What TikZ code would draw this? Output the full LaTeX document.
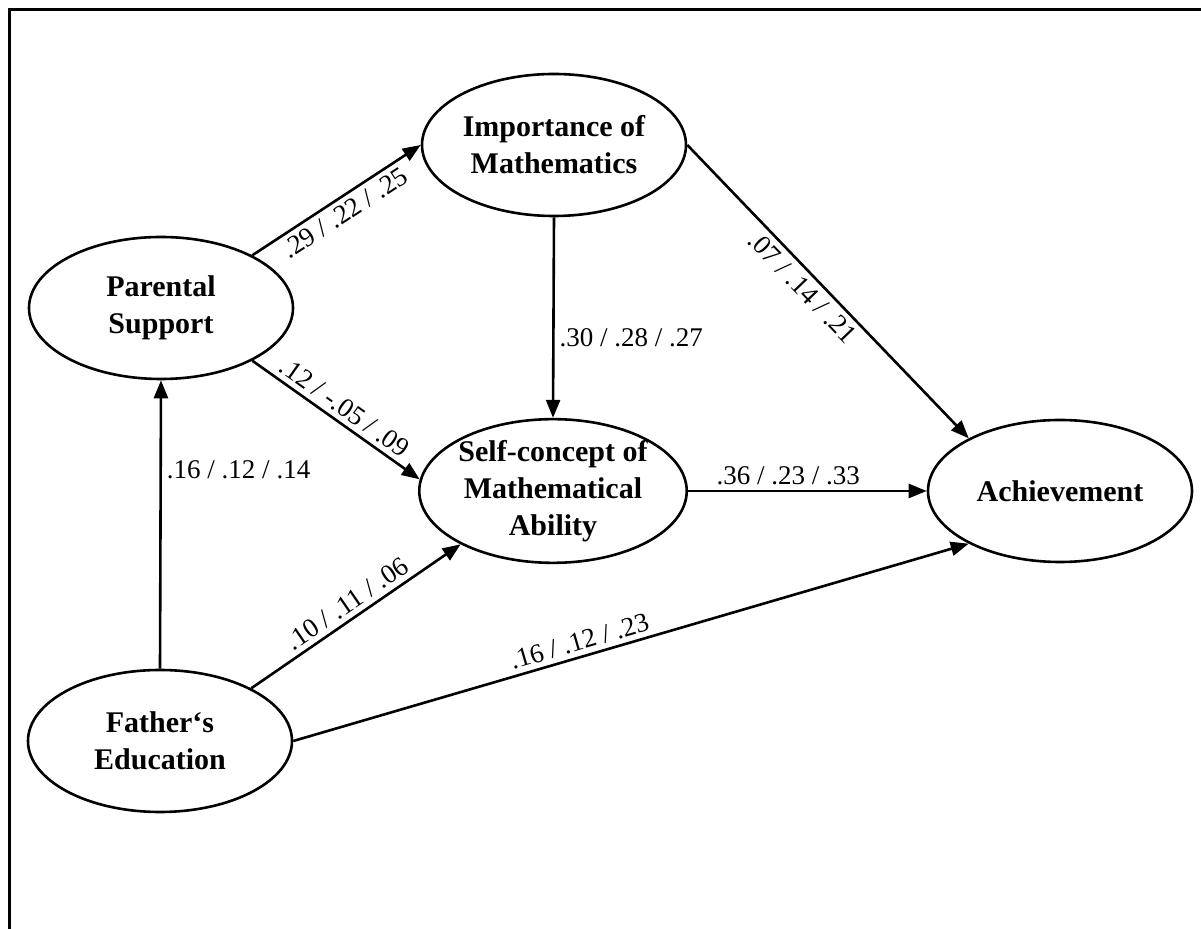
\documentclass[tikz,border=0pt]{standalone}
\usepackage{fontspec}
\setmainfont{Liberation Serif}
\usetikzlibrary{shapes.geometric,arrows.meta}
\begin{document}
\begin{tikzpicture}[x=0.5pt,y=-0.5pt,
  var/.style={draw,line width=1.3pt,ellipse,minimum width=132pt,minimum height=71pt,inner sep=0pt,align=center,font=\bfseries\fontsize{15}{18.5}\selectfont},
  path/.style={line width=1.3pt,-{Triangle[length=9pt,width=7pt]}},
  coef/.style={font=\fontsize{13.5}{16}\selectfont,inner sep=2.5pt}]
\useasboundingbox (0,0) rectangle (1201,929);
%\draw[step=100,gray,very thin,dashed] (0,0) grid (1201,929);
\draw[line width=1.5pt] (9,960) -- (9,10) -- (1230,10);
\node[var] (ps) at (161,308) {Parental\\Support};
\node[var] (im) at (554,145) {Importance of\\Mathematics};
\node[var] (sc) at (553,491) {Self-concept of\\Mathematical\\Ability};
\node[var] (ac) at (1060,491) {Achievement};
\node[var] (fe) at (160,741) {Father`s\\Education};
\draw[path] (ps.30) -- node[coef,midway,below,sloped] {.29 / .22 / .25} (im.180);
\draw[path] (ps.-30) -- node[coef,midway,above,sloped] {.12 / -.05 / .09} (sc.175);
\draw[path] (im.south) -- node[coef,pos=0.6,right] {.30 / .28 / .27} (sc.north);
\draw[path] (im.east) -- node[coef,pos=0.45,below,sloped] {.07 / .14 / .21} (ac.150);
\draw[path] (sc.east) -- node[coef,pos=0.42,above] {.36 / .23 / .33} (ac.west);
\draw[path] (fe.north) -- node[coef,pos=0.69,right] {.16 / .12 / .14} (ps.south);
\draw[path] (fe.30) -- node[coef,midway,above,sloped] {.10 / .11 / .06} (sc.210);
\draw[path] (fe.east) -- node[coef,pos=0.43,above,sloped] {.16 / .12 / .23} (ac.210);
\end{tikzpicture}
\end{document}
